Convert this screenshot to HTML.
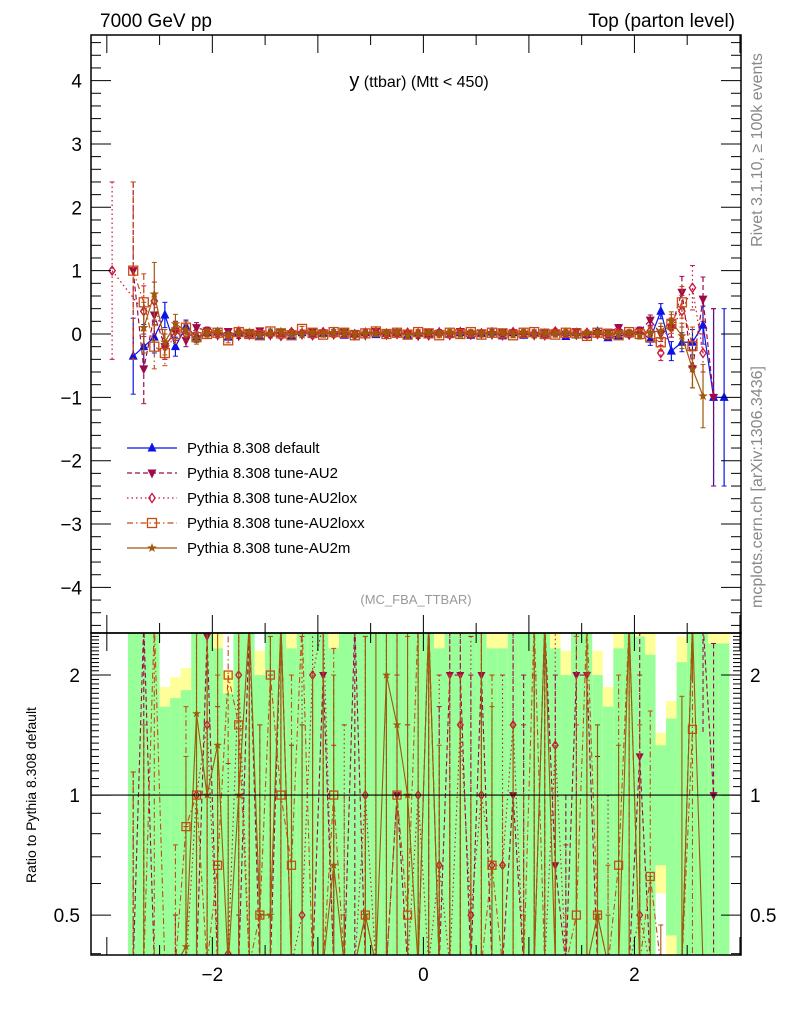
<!DOCTYPE html>
<html><head><meta charset="utf-8"><style>
html,body{margin:0;padding:0;background:#fff;width:786px;height:1024px;overflow:hidden;}
svg{display:block;font-family:"Liberation Sans",sans-serif;}
</style></head><body>
<svg id="chart" width="786" height="1024" viewBox="0 0 786 1024">
<defs>
<clipPath id="cm"><rect x="91" y="35" width="650" height="598"/></clipPath>
<clipPath id="cr"><rect x="91" y="633" width="650" height="322"/></clipPath>
</defs>
<g id="bands" clip-path="url(#cr)"></g>
<g id="ratio" clip-path="url(#cr)"></g>
<g id="main" clip-path="url(#cm)"></g>
<g id="axes"></g>
<text x="100" y="27" font-size="19">7000 GeV pp</text>
<text x="735" y="27" font-size="19" text-anchor="end">Top (parton level)</text>
<text x="419" y="87" text-anchor="middle"><tspan font-size="20">y</tspan><tspan font-size="16"> (ttbar) (Mtt &lt; 450)</tspan></text>
<text x="416" y="604" font-size="13" fill="#999" text-anchor="middle">(MC_FBA_TTBAR)</text>
<text transform="translate(762,150) rotate(-90)" font-size="16" fill="#888" text-anchor="middle">Rivet 3.1.10, ≥ 100k events</text>
<text transform="translate(762,487) rotate(-90)" font-size="16" fill="#888" text-anchor="middle">mcplots.cern.ch [arXiv:1306.3436]</text>
<text transform="translate(36,795) rotate(-90)" font-size="14" text-anchor="middle">Ratio to Pythia 8.308 default</text>
<g id="legend"></g>
</svg>
<script>
const labels = ["Pythia 8.308 default","Pythia 8.308 tune-AU2","Pythia 8.308 tune-AU2lox","Pythia 8.308 tune-AU2loxx","Pythia 8.308 tune-AU2m"];
const binStart = -3.0, binWidth = 0.1;
const vDefault = [null,null,-0.35,-0.2,-0.05,0.3,-0.2,0.12,-0.05,0.02,
 0.03,-0.05,0.02,0.0,-0.04,0.02,0.01,-0.03,0.02,-0.01,
 0.01,0.03,-0.02,0.0,0.02,-0.01,0.01,0.02,-0.02,0.01,
 0.0,0.03,-0.01,0.02,-0.02,0.01,0.03,-0.03,0.02,-0.02,
 0.01,0.0,0.03,-0.04,0.02,-0.01,0.04,-0.06,-0.03,0.0,
 0.04,-0.08,0.36,-0.27,-0.13,-0.13,0.14,-1.0,-1.0];
const eDefault = [null,null,0.6,0.35,0.25,0.2,0.15,0.1,0.08,0.06,
 0.04,0.04,0.04,0.04,0.04,0.04,0.04,0.04,0.04,0.04,
 0.04,0.04,0.04,0.04,0.04,0.04,0.04,0.04,0.04,0.04,
 0.04,0.04,0.04,0.04,0.04,0.04,0.04,0.04,0.04,0.04,
 0.04,0.04,0.04,0.04,0.04,0.04,0.04,0.04,0.04,0.04,
 0.06,0.1,0.12,0.15,0.15,0.2,0.3,1.4,1.4];
const vAU2 = [null,null,1.0,-0.55,0.3,-0.2,0.05,-0.1,0.1,0.05,
 -0.02,0.04,-0.03,0.02,0.05,-0.02,0.03,0.0,-0.01,0.04,
 0.02,-0.01,0.03,0.01,-0.02,0.04,0.0,0.02,0.01,-0.03,
 0.03,0.01,-0.02,0.04,0.0,0.02,-0.01,0.03,0.02,0.0,
 -0.02,0.03,0.02,0.0,0.04,-0.02,0.01,0.03,0.1,0.0,
 0.05,0.22,0.0,0.1,0.66,-0.55,0.55,-1.0,null];
const eAU2 = [null,null,1.4,0.55,0.3,0.2,0.15,0.1,0.08,0.06,
 0.04,0.04,0.04,0.04,0.04,0.04,0.04,0.04,0.04,0.04,
 0.04,0.04,0.04,0.04,0.04,0.04,0.04,0.04,0.04,0.04,
 0.04,0.04,0.04,0.04,0.04,0.04,0.04,0.04,0.04,0.04,
 0.04,0.04,0.04,0.04,0.04,0.04,0.04,0.04,0.05,0.05,
 0.06,0.08,0.12,0.15,0.25,0.3,0.35,1.4,null];
const vLox = [1.0,null,null,0.36,0.52,-0.2,0.05,0.0,-0.05,0.03,
 0.01,-0.02,0.04,-0.01,0.02,0.0,-0.03,0.03,0.01,-0.02,
 0.03,0.0,0.01,-0.02,0.02,0.03,-0.01,0.0,0.02,0.01,
 -0.02,0.02,0.0,0.03,-0.01,0.01,0.02,-0.02,0.03,0.01,
 0.0,-0.02,0.04,0.01,-0.01,0.02,0.0,-0.02,0.03,-0.01,
 0.02,0.05,-0.3,0.1,0.36,0.73,-0.3,null,null];
const eLox = [1.4,null,null,0.4,0.3,0.2,0.15,0.1,0.08,0.06,
 0.04,0.04,0.04,0.04,0.04,0.04,0.04,0.04,0.04,0.04,
 0.04,0.04,0.04,0.04,0.04,0.04,0.04,0.04,0.04,0.04,
 0.04,0.04,0.04,0.04,0.04,0.04,0.04,0.04,0.04,0.04,
 0.04,0.04,0.04,0.04,0.04,0.04,0.04,0.04,0.04,0.04,
 0.06,0.08,0.12,0.15,0.25,0.35,0.3,null,null];
const vLoxx = [null,null,1.0,0.5,-0.2,-0.3,0.0,0.1,-0.05,0.0,
 0.02,-0.1,0.03,0.0,-0.02,0.04,0.01,-0.02,0.08,0.02,
 -0.01,0.03,0.02,-0.02,0.01,0.04,0.0,0.02,-0.01,0.03,
 0.01,-0.02,0.02,0.0,0.03,-0.01,0.02,0.01,-0.02,0.02,
 0.03,0.0,-0.01,0.02,0.01,-0.03,0.02,0.0,-0.02,0.03,
 0.0,-0.05,-0.13,0.16,0.5,-0.19,null,null,null];
const eLoxx = [null,null,1.4,0.45,0.35,0.2,0.15,0.1,0.08,0.06,
 0.04,0.04,0.04,0.04,0.04,0.04,0.04,0.04,0.04,0.04,
 0.04,0.04,0.04,0.04,0.04,0.04,0.04,0.04,0.04,0.04,
 0.04,0.04,0.04,0.04,0.04,0.04,0.04,0.04,0.04,0.04,
 0.04,0.04,0.04,0.04,0.04,0.04,0.04,0.04,0.04,0.04,
 0.06,0.08,0.12,0.15,0.25,0.3,null,null,null];
const vAU2m = [null,null,null,0.1,0.63,-0.13,0.16,0.05,-0.08,0.02,
 0.04,-0.01,0.02,0.03,-0.02,0.01,0.04,0.0,-0.01,0.02,
 0.0,0.02,0.03,-0.01,0.01,0.0,0.02,0.03,-0.02,0.0,
 0.02,0.0,0.03,-0.01,0.02,0.0,0.01,0.02,-0.01,0.03,
 -0.01,0.02,0.0,0.03,-0.02,0.01,0.02,0.01,0.0,0.02,
 -0.02,0.03,0.05,0.2,-0.03,-0.55,-0.98,null,null];
const eAU2m = [null,null,null,0.4,0.5,0.2,0.15,0.1,0.08,0.06,
 0.04,0.04,0.04,0.04,0.04,0.04,0.04,0.04,0.04,0.04,
 0.04,0.04,0.04,0.04,0.04,0.04,0.04,0.04,0.04,0.04,
 0.04,0.04,0.04,0.04,0.04,0.04,0.04,0.04,0.04,0.04,
 0.04,0.04,0.04,0.04,0.04,0.04,0.04,0.04,0.04,0.04,
 0.06,0.08,0.12,0.15,0.2,0.3,0.5,null,null];
const mainTicks = [-4,-3,-2,-1,0,1,2,3,4];
const ratioTicks = [0.5,1,2];
const xTickLabels = [-2,0,2];

const NS="http://www.w3.org/2000/svg";
function mk(tag,attrs,parent){const e=document.createElementNS(NS,tag);for(const k in attrs)e.setAttribute(k,attrs[k]);if(parent)parent.appendChild(e);return e;}
const clamp=(v,a,b)=>Math.max(a,Math.min(b,v));
const X0=91,X1=741,XMIN=-3.15,XMAX=3.01;
const sx=v=>X0+(v-XMIN)/(XMAX-XMIN)*(X1-X0);
const MY0=35,MY1=633,YMIN=-4.72,YMAX=4.72;
const sy=v=>clamp(MY1-(v-YMIN)/(YMAX-YMIN)*(MY1-MY0),MY0-10,MY1+10);
const RY0=633,RY1=955,RMIN=Math.log10(0.397),RMAX=Math.log10(2.55);
const sr=v=>{const l=v>0?Math.log10(v):RMIN-1;return clamp(RY1-(l-RMIN)/(RMAX-RMIN)*(RY1-RY0),RY0-10,RY1+10);};
const cen=k=>binStart+binWidth*(k+0.5);

const series=[
 {v:vDefault,e:eDefault,c:"#0a14e6",dash:"",m:"tri"},
 {v:vAU2,e:eAU2,c:"#9c0a4a",dash:"5,3",m:"tridown"},
 {v:vLox,e:eLox,c:"#c8143c",dash:"1.5,3",m:"diamond"},
 {v:vLoxx,e:eLoxx,c:"#c84b14",dash:"6,3,1.5,3",m:"square"},
 {v:vAU2m,e:eAU2m,c:"#a0580a",dash:"",m:"star"}];

function marker(g,type,x,y,c,s){
 s=s||4.5;let el;
 if(type==="tri")el=mk("polygon",{points:`${x},${y-s-1} ${x-s},${y+s-1} ${x+s},${y+s-1}`,fill:c},g);
 else if(type==="tridown")el=mk("polygon",{points:`${x},${y+s+1} ${x-s},${y-s+1} ${x+s},${y-s+1}`,fill:c},g);
 else if(type==="diamond")el=mk("polygon",{points:`${x},${y-s} ${x+s*0.7},${y} ${x},${y+s} ${x-s*0.7},${y}`,fill:"none",stroke:c,"stroke-width":1.3},g);
 else if(type==="square")el=mk("rect",{x:x-s,y:y-s,width:2*s,height:2*s,fill:"none",stroke:c,"stroke-width":1.3},g);
 else {let p=[];for(let i=0;i<10;i++){const r=i%2?s*0.45:s+0.5;const a=-Math.PI/2+i*Math.PI/5;p.push((x+r*Math.cos(a)).toFixed(1)+","+(y+r*Math.sin(a)).toFixed(1));}
  el=mk("polygon",{points:p.join(" "),fill:c},g);}
 return el;
}

const bands=document.getElementById("bands");
vDefault.forEach((d,k)=>{
 if(d===null)return;
 const rel=eDefault[k]/Math.abs(d||0.001);
 const xa=sx(binStart+binWidth*k),xb=sx(binStart+binWidth*(k+1));
 const yl=mk("rect",{x:xa,y:sr(1+1.3*rel),width:xb-xa,height:sr(1-1.3*rel)-sr(1+1.3*rel),fill:"#ffff99"},bands);
 
 
 const gr=mk("rect",{x:xa,y:sr(1+rel),width:xb-xa,height:sr(1-rel)-sr(1+rel),fill:"#99ff99"},bands);
 
 
});

const mainG=document.getElementById("main"),ratioG=document.getElementById("ratio");
series.forEach((s,i)=>{
 const gm=mk("g",{},mainG);
 
 
 const gr=mk("g",{},ratioG);
 
 
 let pts=[],rpts=[];
 s.v.forEach((v,k)=>{
  if(v===null)return;
  const x=sx(cen(k)),y=sy(v),e=s.e[k]||0;
  pts.push([x,y]);
  mk("line",{x1:x,x2:x,y1:sy(v+e),y2:sy(v-e),stroke:s.c,"stroke-width":1.2,"stroke-dasharray":s.dash},gm);
  mk("line",{x1:x-2.5,x2:x+2.5,y1:sy(v+e),y2:sy(v+e),stroke:s.c,"stroke-width":1},gm);
  mk("line",{x1:x-2.5,x2:x+2.5,y1:sy(v-e),y2:sy(v-e),stroke:s.c,"stroke-width":1},gm);
  const d=vDefault[k];
  if(i>0&&d!==null){
   const r=v/d,er=e/Math.abs(d);
   const yr=sr(r);
   rpts.push([x,yr]);
   mk("line",{x1:x,x2:x,y1:sr(r+er),y2:sr(r-er),stroke:s.c,"stroke-width":1.1,"stroke-dasharray":s.dash},gr);
   mk("line",{x1:x-2.5,x2:x+2.5,y1:sr(r+er),y2:sr(r+er),stroke:s.c,"stroke-width":1},gr);
   if(r>0.397&&r<2.55)marker(gr,s.m,x,yr,s.c,4);
  }
 });
 mk("polyline",{points:pts.map(p=>p.join(",")).join(" "),fill:"none",stroke:s.c,"stroke-width":1.2,"stroke-dasharray":s.dash},gm);
 pts.forEach(p=>marker(gm,s.m,p[0],p[1],s.c));
 if(i>0&&rpts.length)mk("polyline",{points:rpts.map(p=>p[0]+","+p[1]).join(" "),fill:"none",stroke:s.c,"stroke-width":1.1,"stroke-dasharray":s.dash},gr);
});

const ax=document.getElementById("axes");
const fr1=mk("rect",{x:X0,y:MY0,width:X1-X0,height:MY1-MY0,fill:"none",stroke:"#000","stroke-width":1.5},ax);


const fr2=mk("rect",{x:X0,y:RY0,width:X1-X0,height:RY1-RY0,fill:"none",stroke:"#000","stroke-width":1.5},ax);


mk("line",{x1:X0,x2:X1,y1:sr(1),y2:sr(1),stroke:"#000","stroke-width":1.2},ax);
for(let v=-4.6;v<=4.65;v+=0.2){const y=sy(v);const maj=Math.abs(v-Math.round(v))<0.01;const L=maj?20:10;
 mk("line",{x1:X0,x2:X0+L,y1:y,y2:y,stroke:"#000"},ax);mk("line",{x1:X1-L,x2:X1,y1:y,y2:y,stroke:"#000"},ax);}
mainTicks.forEach(t=>{const tl=mk("text",{x:82,y:sy(t)+7,"font-size":19,"text-anchor":"end"},ax);tl.textContent=t<0?"−"+(-t):String(t);
 
 });
[0.4,0.5,0.6,0.7,0.8,0.9,1,2].forEach(t=>{const y=sr(t);const maj=ratioTicks.includes(t);const L=maj?20:10;
 mk("line",{x1:X0,x2:X0+L,y1:y,y2:y,stroke:"#000"},ax);mk("line",{x1:X1-L,x2:X1,y1:y,y2:y,stroke:"#000"},ax);});
for(let k=0;k<40;k++){const t=1+k*0.05;if(t>2.5)break;const y=sr(t);mk("line",{x1:X0,x2:X0+8,y1:y,y2:y,stroke:"#000"},ax);mk("line",{x1:X1-8,x2:X1,y1:y,y2:y,stroke:"#000"},ax);}
ratioTicks.forEach(t=>{
 const a=mk("text",{x:80,y:sr(t)+7,"font-size":19,"text-anchor":"end"},ax);a.textContent=String(t);
 
 
 const b=mk("text",{x:750,y:sr(t)+7,"font-size":19},ax);b.textContent=String(t);
 
 });
for(let v=-3;v<=3.001;v+=0.5){const x=sx(v);const L=Math.abs(v-Math.round(v))<0.01?18:10;
 [MY0,RY0].forEach(yt=>mk("line",{x1:x,x2:x,y1:yt,y2:yt+L,stroke:"#000"},ax));
 [MY1,RY1].forEach(yb=>mk("line",{x1:x,x2:x,y1:yb-L,y2:yb,stroke:"#000"},ax));}
xTickLabels.forEach(t=>{const tl=mk("text",{x:sx(t),y:981,"font-size":19,"text-anchor":"middle"},ax);tl.textContent=t<0?"−"+(-t):String(t);
 
 });

const lg=document.getElementById("legend");
labels.forEach((lab,i)=>{const s=series[i];const y=448+i*25;
 const g=mk("g",{},lg);
 
 
 mk("line",{x1:127,x2:177,y1:y,y2:y,stroke:s.c,"stroke-width":1.3,"stroke-dasharray":s.dash},g);
 marker(g,s.m,152,y,s.c);
 const t=mk("text",{x:187,y:y+5,"font-size":15},g);t.textContent=lab;});
</script>
</body></html>
